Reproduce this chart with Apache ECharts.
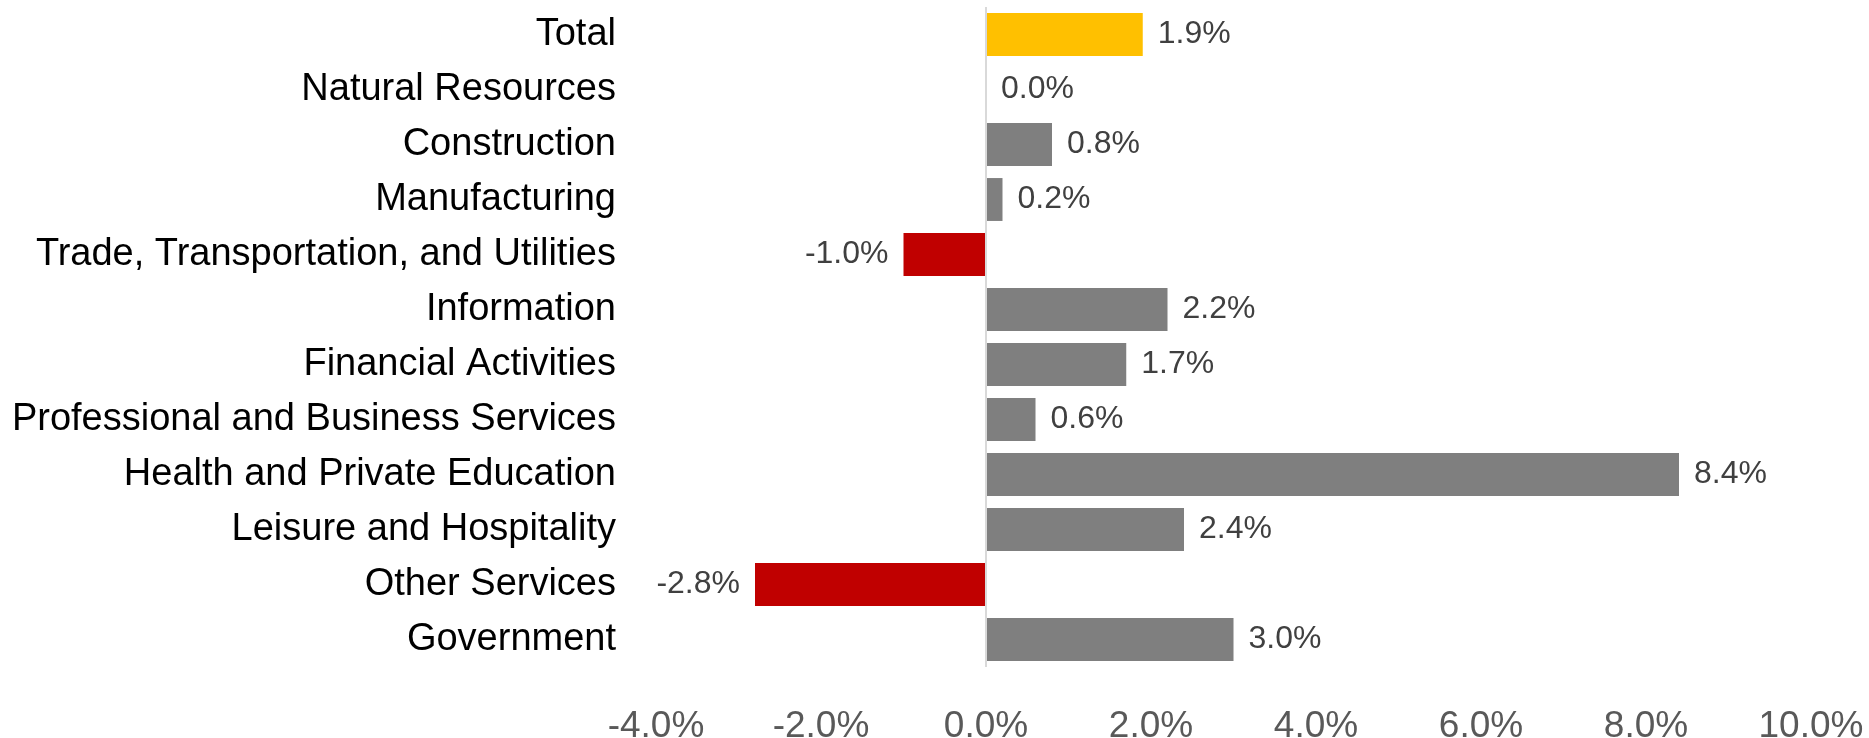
<!DOCTYPE html>
<html>
<head>
<meta charset="utf-8">
<script src="https://cdn.jsdelivr.net/npm/echarts@6/dist/echarts.min.js"></script>
<style>
html,body{margin:0;padding:0;background:#fff;}
#chart{width:1869px;height:738px;}
</style>
</head>
<body>
<div id="chart"></div>
<script>
const categories = [
  "Total",
  "Natural Resources",
  "Construction",
  "Manufacturing",
  "Trade, Transportation, and Utilities",
  "Information",
  "Financial Activities",
  "Professional and Business Services",
  "Health and Private Education",
  "Leisure and Hospitality",
  "Other Services",
  "Government"
];
const values = [1.9, 0.0, 0.8, 0.2, -1.0, 2.2, 1.7, 0.6, 8.4, 2.4, -2.8, 3.0];
const xTicks = [-4, -2, 0, 2, 4, 6, 8, 10];

const totalColor = '#FFC000';
const negColor = '#C00000';
const posColor = '#7F7F7F';
const font = 'Liberation Sans';

const data = values.map((v, i) => ({
  value: v,
  itemStyle: { color: i === 0 ? totalColor : (v < 0 ? negColor : posColor) },
  label: { position: v < 0 ? 'left' : 'right' }
}));

const chart = echarts.init(document.getElementById('chart'), null, { renderer: 'canvas' });
chart.setOption({
  animation: false,
  grid: { left: 656, right: 58, top: 7, bottom: 71, containLabel: false, outerBoundsMode: 'none' },
  xAxis: {
    type: 'value',
    min: xTicks[0],
    max: xTicks[xTicks.length - 1],
    interval: 2,
    axisLine: { show: false },
    axisTick: { show: false },
    splitLine: { show: false },
    axisLabel: {
      margin: 41,
      fontFamily: font,
      fontSize: 37,
      color: '#595959',
      hideOverlap: false,
      formatter: v => v.toFixed(1) + '%'
    }
  },
  yAxis: {
    type: 'category',
    data: categories,
    inverse: true,
    axisLine: { show: false },
    axisTick: { show: false },
    splitLine: { show: false },
    axisLabel: {
      margin: 40,
      fontFamily: font,
      fontSize: 38,
      color: '#000000',
      padding: [3, 0, 0, 0]
    }
  },
  series: [{
    type: 'bar',
    data: data,
    barCategoryGap: '22%',
    label: {
      show: true,
      distance: 15,
      fontFamily: font,
      fontSize: 32,
      color: '#404040',
      formatter: p => p.value.toFixed(1) + '%'
    },
    markLine: {
      silent: true,
      symbol: ['none', 'none'],
      label: { show: false },
      lineStyle: { color: '#D9D9D9', width: 2, type: 'solid' },
      data: [{ xAxis: 0 }]
    }
  }]
});
</script>
</body>
</html>
